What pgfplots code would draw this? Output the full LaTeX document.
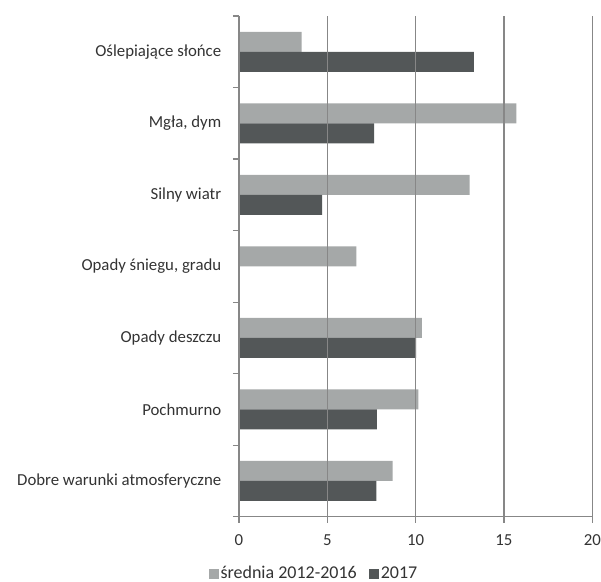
\documentclass[border=0pt]{standalone}
\usepackage{pgfplots}
\pgfplotsset{compat=1.18}
\usepackage{fontspec}
\setmainfont{Carlito}

\definecolor{lightbar}{HTML}{A5A8A8}
\definecolor{darkbar}{HTML}{535758}
\definecolor{gridgray}{HTML}{878787}
\definecolor{txt}{HTML}{333333}

\begin{document}
\fontsize{16.8bp}{20bp}\selectfont
\begin{tikzpicture}
\useasboundingbox (0,0) rectangle (601bp,582bp);
\begin{axis}[
    at={(239bp,65.3bp)}, anchor=south west,
    scale only axis,
    width=353.3bp, height=500.7bp,
    xbar,
    xmin=0, xmax=20,
    ymin=-0.5, ymax=6.5,
    xtick={0,5,10,15,20},
    ytick={-0.5,0.5,1.5,2.5,3.5,4.5,5.5,6.5},
    y tick label as interval,
    yticklabels={Dobre warunki atmosferyczne, Pochmurno, Opady deszczu,
        {Opady śniegu, gradu}, Silny wiatr, {Mgła, dym}, Oślepiające słońce},
    axis x line*=bottom,
    axis y line*=left,
    axis line style={gridgray, line width=1.2bp},
    xmajorgrids,
    grid style={gridgray, line width=1.2bp},
    tick align=outside,
    major tick length=6bp,
    tick style={gridgray, line width=1.2bp},
    axis on top,
    /pgf/number format/assume math mode=true,
    ticklabel style={font=\fontsize{16.8bp}{20bp}\selectfont, text=txt},
    yticklabel style={xshift=-6bp},
    xticklabel style={yshift=-6bp},
    bar width=20bp,
    legend columns=2,
    legend style={draw=none, fill=none, at={(0.212,-0.1144)}, anchor=center,
        font=\fontsize{18bp}{21bp}\selectfont, text=txt,
        /tikz/every even column/.append style={column sep=10bp}},
    legend image code/.code={\fill[#1] (0bp,-5bp) rectangle (10bp,5bp);},
]
\addplot[fill=lightbar, draw=none, bar shift=10bp] coordinates {
    (8.7,0) (10.15,1) (10.35,2) (6.65,3) (13.05,4) (15.7,5) (3.55,6)
};
\addplot[fill=darkbar, draw=none, bar shift=-10bp] coordinates {
    (7.77,0) (7.8,1) (10.02,2) (4.7,4) (7.65,5) (13.3,6)
};
\legend{średnia 2012-2016, 2017}
\end{axis}
\end{tikzpicture}
\end{document}
